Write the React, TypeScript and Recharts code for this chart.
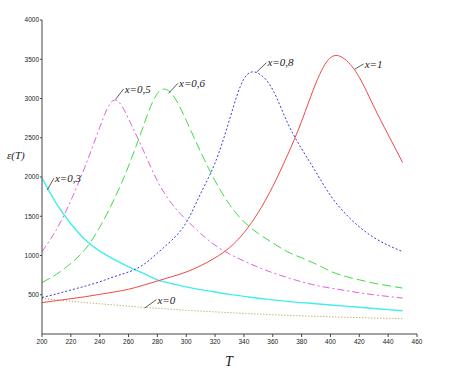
import {
  LineChart,
  Line,
  XAxis,
  YAxis,
  ReferenceLine,
  ReferenceDot,
} from 'recharts';

// temperature grid
const T = [
  200, 210, 220, 230, 240, 250, 260, 270, 280, 290, 300, 310, 320,
  330, 340, 350, 360, 370, 380, 390, 400, 410, 420, 430, 440, 450,
];

// permittivity curves, one per composition x
const epsX0 = [
  455, 435, 418, 400, 385, 370, 355, 340, 328, 315, 302, 292, 282,
  272, 262, 254, 246, 238, 231, 225, 219, 213, 208, 203, 199, 195,
];
const epsX03 = [
  1985, 1660, 1405, 1200, 1055, 950, 855, 775, 690, 640, 600, 565, 535,
  505, 480, 455, 435, 415, 400, 385, 370, 355, 340, 325, 310, 296,
];
const epsX05 = [
  1050, 1330, 1700, 2140, 2630, 2980, 2740, 2350, 1950, 1660, 1455, 1280, 1130,
  1020, 930, 850, 780, 720, 665, 620, 585, 555, 525, 500, 478, 458,
];
const epsX06 = [
  655, 760, 900, 1080, 1360, 1715, 2140, 2635, 3065, 3060, 2720, 2320, 1950,
  1650, 1430, 1280, 1160, 1050, 970, 890, 800, 735, 690, 648, 615, 585,
];
const epsX08 = [
  465, 510, 560, 610, 665, 730, 790, 880, 1030, 1195, 1420, 1790, 2180,
  2730, 3250, 3320, 3110, 2700, 2360, 2060, 1765, 1540, 1365, 1230, 1130, 1050,
];
const epsX1 = [
  400, 425, 450, 475, 505, 535, 570, 620, 675, 730, 790, 870, 970,
  1100, 1290, 1550, 1880, 2270, 2710, 3200, 3520, 3500, 3270, 2900, 2540, 2185,
];

const xTicks = [200, 220, 240, 260, 280, 300, 320, 340, 360, 380, 400, 420, 440, 460];
const yTicks = [500, 1000, 1500, 2000, 2500, 3000, 3500, 4000];

// curve labels: leader start (on curve) -> leader end (text anchor)
const labels = [
  { text: 'x=0,3', from: [203.7, 1837], to: [208.3, 1985] },
  { text: 'x=0,5', from: [251.1, 2991], to: [256.6, 3122] },
  { text: 'x=0,6', from: [287.8, 3067], to: [294.3, 3195] },
  { text: 'x=0,8', from: [348.7, 3335], to: [355.6, 3457] },
  { text: 'x=1', from: [416.8, 3373], to: [423.0, 3440] },
  { text: 'x=0', from: [271.2, 331], to: [279.3, 437] },
];

const data = T.map((t, i) => ({
  T: t,
  x0: epsX0[i],
  x03: epsX03[i],
  x05: epsX05[i],
  x06: epsX06[i],
  x08: epsX08[i],
  x1: epsX1[i],
}));

const axisColor = '#444';
const tickStyle = { fontSize: 6.5, fill: '#222', fontFamily: 'Liberation Sans, Arial, sans-serif' };
const labelFont = '"Liberation Serif", "Times New Roman", serif';

const CurveLabel = (text: string) => (props: any) => {
  const vb = props.viewBox || {};
  const x = (vb.x ?? 0) + (vb.width ?? 0) + 1;
  const y = (vb.y ?? 0) + (vb.height ?? 0) / 2;
  return (
    <text
      x={x}
      y={y}
      dy="0.35em"
      fill="#222"
      style={{ fontFamily: labelFont, fontStyle: 'italic', fontSize: 11 }}
    >
      {text}
    </text>
  );
};

export default function App() {
  return (
    <div style={{ position: 'absolute', left: 0, top: 0, width: 456, height: 388, background: '#fff' }}>
      <LineChart
        width={456}
        height={388}
        data={data}
        margin={{ top: 20, right: 39, bottom: 24, left: 0 }}
      >
        <XAxis
          dataKey="T"
          type="number"
          domain={[200, 460]}
          ticks={xTicks}
          interval={0}
          height={30}
          tick={tickStyle}
          tickSize={3}
          tickMargin={2}
          axisLine={{ stroke: axisColor }}
          tickLine={{ stroke: axisColor }}
        />
        <YAxis
          type="number"
          domain={[0, 4000]}
          ticks={yTicks}
          interval={0}
          width={42}
          tick={tickStyle}
          tickSize={2}
          tickMargin={1}
          axisLine={{ stroke: axisColor }}
          tickLine={{ stroke: axisColor }}
        />

        <Line dataKey="x0" type="natural" stroke="#a89a30" strokeWidth={1} strokeDasharray="1 2" dot={false} isAnimationActive={false} />
        <Line dataKey="x03" type="natural" stroke="#40eeee" strokeWidth={1.4} dot={false} isAnimationActive={false} />
        <Line dataKey="x05" type="natural" stroke="#e060e0" strokeWidth={1} strokeDasharray="7 3 2 3" dot={false} isAnimationActive={false} />
        <Line dataKey="x06" type="natural" stroke="#40dd40" strokeWidth={1} strokeDasharray="9 4" dot={false} isAnimationActive={false} />
        <Line dataKey="x08" type="natural" stroke="#3b3bd6" strokeWidth={1} strokeDasharray="2 2" dot={false} isAnimationActive={false} />
        <Line dataKey="x1" type="natural" stroke="#f04848" strokeWidth={1} dot={false} isAnimationActive={false} />

        {labels.map((l) => (
          <ReferenceLine
            key={l.text + '-lead'}
            segment={[
              { x: l.from[0], y: l.from[1] },
              { x: l.to[0], y: l.to[1] },
            ]}
            stroke="#333"
            strokeWidth={0.8}
          />
        ))}
        {labels.map((l) => (
          <ReferenceDot
            key={l.text}
            x={l.to[0]}
            y={l.to[1]}
            r={0}
            fill="none"
            stroke="none"
            label={CurveLabel(l.text)}
          />
        ))}
      </LineChart>

      <div
        style={{
          position: 'absolute',
          left: 7,
          top: 149,
          fontFamily: labelFont,
          fontStyle: 'italic',
          fontSize: 11,
          color: '#222',
        }}
      >
        ε(T)
      </div>
      <div
        style={{
          position: 'absolute',
          left: 225,
          top: 354,
          fontFamily: labelFont,
          fontStyle: 'italic',
          fontSize: 14,
          color: '#222',
        }}
      >
        T
      </div>
    </div>
  );
}
